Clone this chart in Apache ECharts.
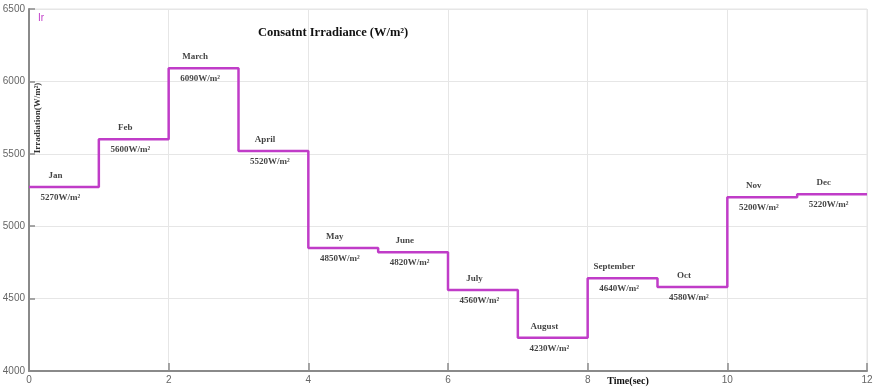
<!DOCTYPE html>
<html>
<head>
<meta charset="utf-8">
<script src="https://cdn.jsdelivr.net/npm/echarts@6/dist/echarts.min.js"></script>
<style>
  html, body { margin: 0; padding: 0; background: #fff; }
  #main { width: 874px; height: 391px; }
</style>
</head>
<body>
<div id="main"></div>
<script>
// months and their constant irradiance, one per second of simulation
var months = ['Jan', 'Feb', 'March', 'April', 'May', 'June', 'July', 'August', 'September', 'Oct', 'Nov', 'Dec'];
var irradiance = [5270, 5600, 6090, 5520, 4850, 4820, 4560, 4230, 4640, 4580, 5200, 5220];
var xTicks = [0, 2, 4, 6, 8, 10, 12];
var yTicks = [4000, 4500, 5000, 5500, 6000, 6500];

var serif = '"Liberation Serif", "Times New Roman", serif';

// step line: value i holds from t=i to t=i+1
var stepData = irradiance.map(function (v, i) { return [i, v]; });
stepData.push([months.length, irradiance[irradiance.length - 1]]);

var nameData = irradiance.map(function (v, i) { return [i + 0.38, v]; });
var valueData = irradiance.map(function (v, i) { return [i + 0.45, v]; });

var myChart = echarts.init(document.getElementById('main'));
myChart.setOption({
    animation: false,
    backgroundColor: '#fff',
    title: {
        text: 'Consatnt Irradiance (W/m\u00B2)',
        left: 253,
        top: 21,
        textStyle: { fontFamily: serif, fontWeight: 'bold', fontSize: 12.5, color: '#111' }
    },
    graphic: [
        {
            type: 'text',
            left: 38,
            top: 13,
            style: { text: 'Ir', fill: '#c03cc8', font: '10px sans-serif' }
        },
        {
            // axis names drawn by hand, MATLAB puts them in odd places
            type: 'text',
            x: 628,
            y: 381,
            style: { text: 'Time(sec)', fill: '#111', font: 'bold 10px ' + serif, align: 'center', verticalAlign: 'middle' }
        },
        {
            type: 'text',
            x: 38,
            y: 118,
            rotation: Math.PI / 2,
            style: { text: 'Irradiation(W/m\u00B2)', fill: '#333', font: 'bold 9px ' + serif, align: 'center', verticalAlign: 'middle' }
        }
    ],
    grid: {
        left: 29, right: 7, top: 9, bottom: 20,
        outerBoundsMode: 'none', containLabel: false,
        show: true, borderColor: '#e4e4e4', borderWidth: 1
    },
    xAxis: {
        type: 'value',
        min: 0,
        max: 12,
        interval: 2,
        axisLine: { lineStyle: { color: '#8a8a8a', width: 2 } },
        axisTick: { inside: true, length: 8, lineStyle: { color: '#8a8a8a', width: 1.5 } },
        axisLabel: {
            color: '#666', fontSize: 10, margin: 4,
            formatter: function (v) { return xTicks.indexOf(v) >= 0 ? v : ''; }
        },
        splitLine: { lineStyle: { color: '#e6e6e6' } }
    },
    yAxis: {
        type: 'value',
        min: 4000,
        max: 6500,
        interval: 500,
        axisLine: { show: true, lineStyle: { color: '#8a8a8a', width: 2 } },
        axisTick: { show: true, inside: true, length: 6, lineStyle: { color: '#8a8a8a', width: 1.5 } },
        axisLabel: {
            color: '#666', fontSize: 10, margin: 4,
            formatter: function (v) { return yTicks.indexOf(v) >= 0 ? v : ''; }
        },
        splitLine: { lineStyle: { color: '#e6e6e6' } }
    },
    series: [
        {
            name: 'Ir',
            type: 'line',
            step: 'end',
            data: stepData,
            symbol: 'none',
            lineStyle: { color: '#c03cc8', width: 2.5 }
        },
        {
            type: 'scatter',
            data: nameData,
            symbolSize: 0,
            silent: true,
            label: {
                show: true,
                position: 'top',
                distance: 7,
                fontFamily: serif,
                fontWeight: 'bold',
                fontSize: 9,
                color: '#111',
                formatter: function (p) { return months[p.dataIndex]; }
            }
        },
        {
            type: 'scatter',
            data: valueData,
            symbolSize: 0,
            silent: true,
            label: {
                show: true,
                position: 'bottom',
                distance: 6,
                fontFamily: serif,
                fontWeight: 'bold',
                fontSize: 9,
                color: '#111',
                formatter: function (p) { return irradiance[p.dataIndex] + 'W/m\u00B2'; }
            }
        }
    ]
});
</script>
</body>
</html>
